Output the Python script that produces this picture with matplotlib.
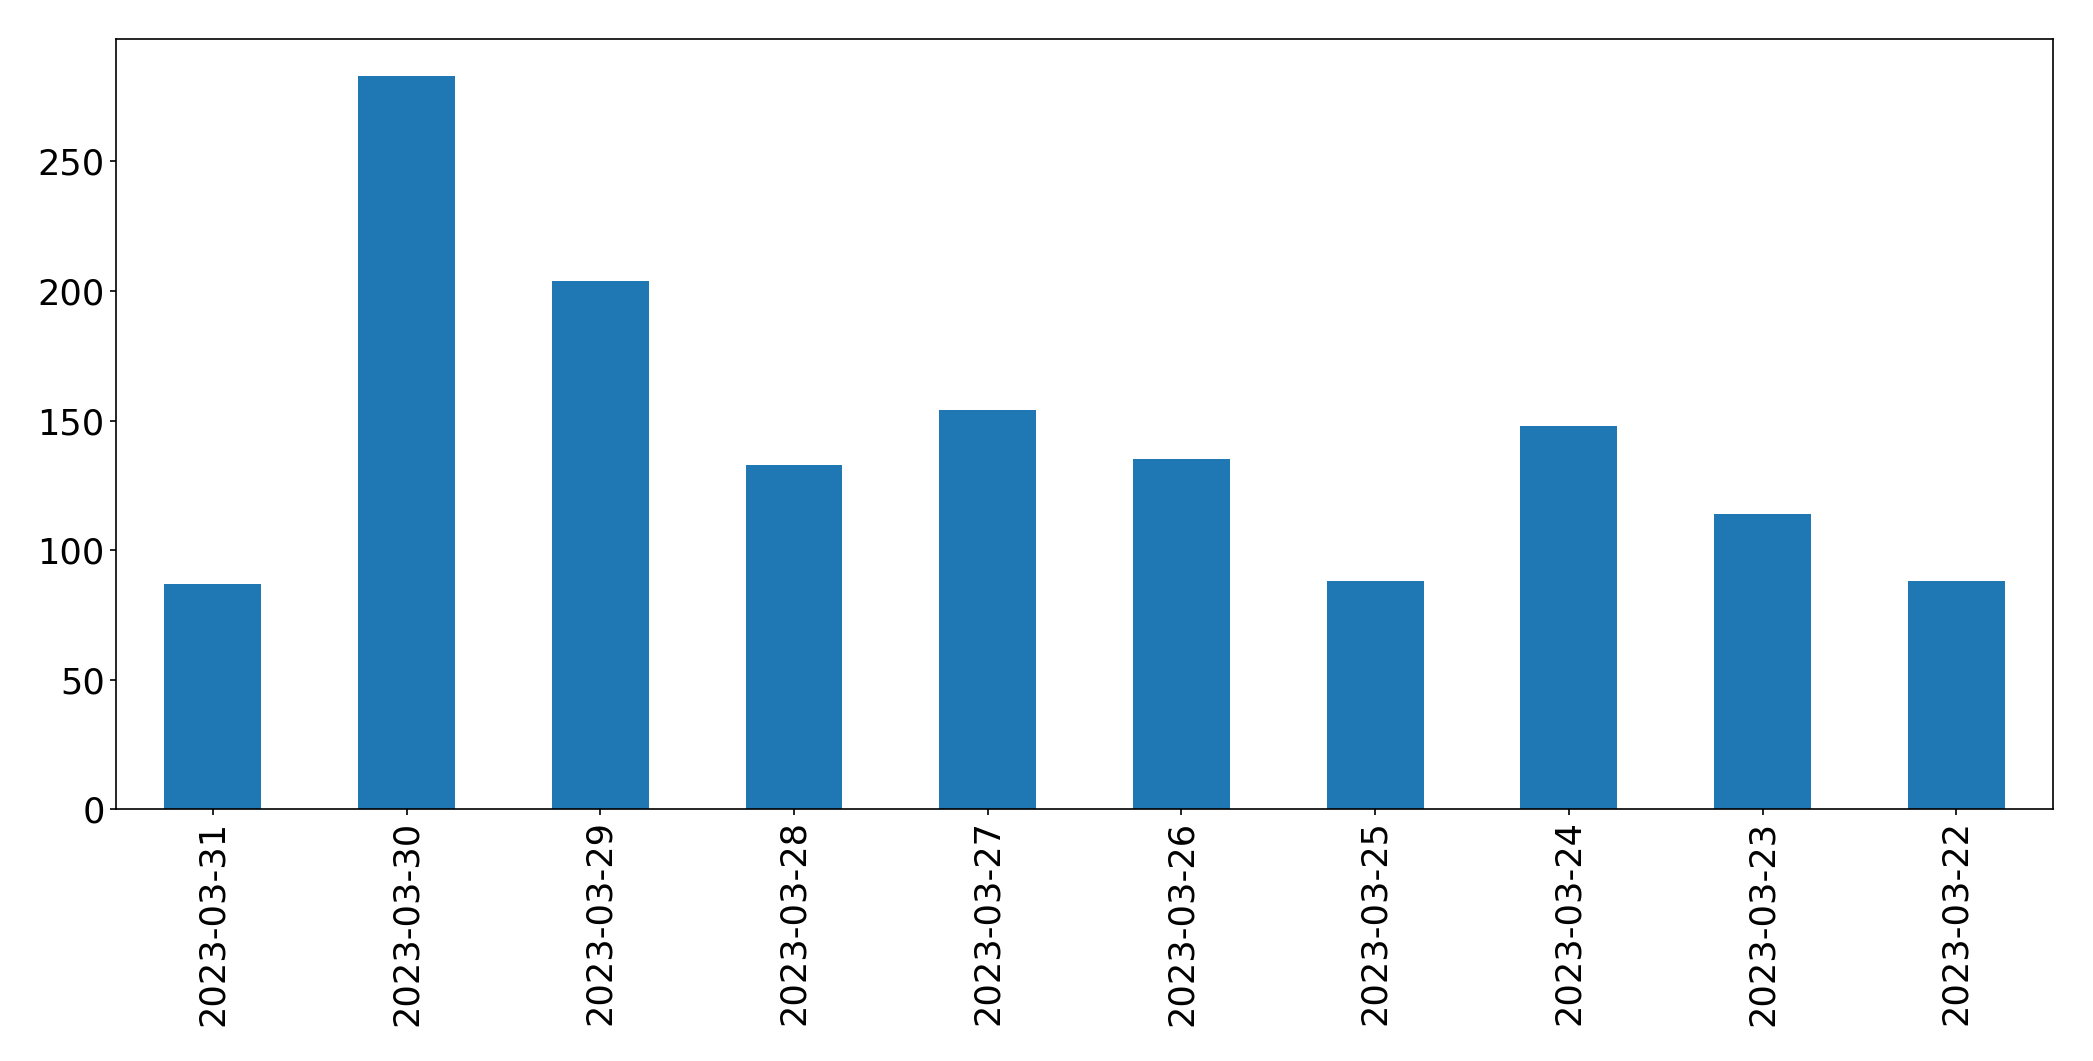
import matplotlib
matplotlib.use("Agg")
import matplotlib.pyplot as plt

dates = ["2023-03-31", "2023-03-30", "2023-03-29", "2023-03-28", "2023-03-27",
         "2023-03-26", "2023-03-25", "2023-03-24", "2023-03-23", "2023-03-22"]
counts = [87, 283, 204, 133, 154, 135, 88, 148, 114, 88]

fig, ax = plt.subplots(figsize=(20.93, 10.61), dpi=100)
x = range(len(dates))
ax.bar(x, counts, width=0.5, color="#1f77b4")
ax.set_xlim(-0.5, len(dates) - 0.5)
ax.set_xticks(list(x))
ax.set_xticklabels(dates, rotation=90)
ax.tick_params(labelsize=25.3, width=1.2, length=4.5)
for s in ax.spines.values():
    s.set_linewidth(1.2)

plt.subplots_adjust(left=0.0554, right=0.981, top=0.963, bottom=0.2372)
plt.savefig("out.png", dpi=100)
